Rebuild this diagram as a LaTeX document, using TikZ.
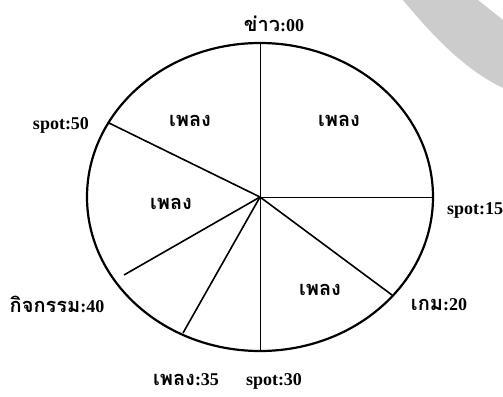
\documentclass[tikz,border=0pt]{standalone}
\usepackage{fontspec}
\setmainfont{Liberation Serif}
\newfontfamily\thaifont[Script=Thai]{Loma}
\usepackage{tikz}
\usetikzlibrary{shapes.geometric,positioning,calc}

\begin{document}
\begin{tikzpicture}[
  x=1pt, y=-1pt,
  rim/.style={draw=black, line width=2.2pt},
  spoke/.style={draw=black, line width=1.6pt},
  thinspoke/.style={draw=black, line width=1pt},
  seglabel/.style={font=\fontsize{20}{22}\selectfont\thaifont\bfseries, inner sep=0pt},
  timelabel/.style={font=\fontsize{18}{20}\selectfont\bfseries, inner sep=0pt},
  smudge/.style={fill=black!20, draw=none}
]
\useasboundingbox (0,0) rectangle (503,396);

% Grey band at the top right corner
\fill[smudge] (403,0) .. controls (440,45) and (470,72) .. (503,88)
  -- (503,20) .. controls (490,10) .. (478,0) -- cycle;

% Centre and the ends of the spokes
\coordinate (hub) at (260,197);
\coordinate (t00) at (260,43);
\coordinate (t15) at (433,197);
\coordinate (t20) at (392,295);
\coordinate (t30) at (260,351);
\coordinate (t35) at (183,333);
\coordinate (t40) at (124,275);
\coordinate (t50) at (109,123);

% Clock face
\draw[rim] (hub) ellipse [x radius=173, y radius=154];

% Spokes
\draw[thinspoke] (hub) -- (t00);
\draw[thinspoke] (hub) -- (t15);
\draw[spoke] (hub) -- (t20);
\draw[thinspoke] (hub) -- (t30);
\draw[spoke] (hub) -- (t35);
\draw[spoke] (hub) -- (t40);
\draw[spoke] (hub) -- (t50);

% Segment labels
\node[seglabel] (songA) at (339,121) {เพลง};
\node[seglabel] (songB) at (190,121) {เพลง};
\node[seglabel] (songC) at (171,204) {เพลง};
\node[seglabel] (songD) at (320,290) {เพลง};

% Time labels round the rim
\node[timelabel] (l00) at (274,24) {{\thaifont\fontsize{20}{22}\selectfont ข่าว}:00};
\node[timelabel] (l15) at (475,210) {spot:15};
\node[timelabel] (l20) at (439,305) {{\thaifont\fontsize{20}{22}\selectfont เกม}:20};
\node[timelabel] (l30) at (274,381) {spot:30};
\node[timelabel] (l35) at (186,380) {{\thaifont\fontsize{20}{22}\selectfont เพลง}:35};
\node[timelabel] (l40) at (57,304) {{\thaifont\fontsize{20}{22}\selectfont กิจกรรม}:40};
\node[timelabel] (l50) at (61,125) {spot:50};

\end{tikzpicture}
\end{document}
